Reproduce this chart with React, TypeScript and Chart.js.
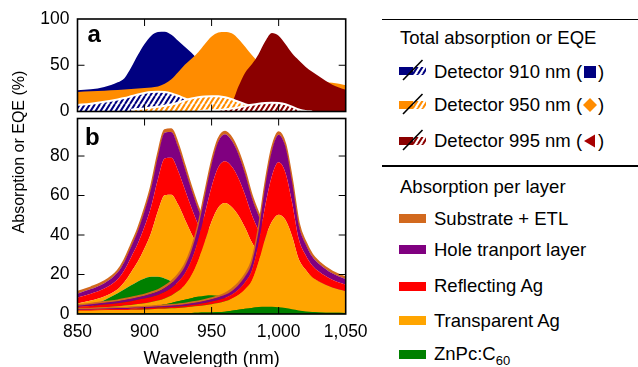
import React, { useEffect, useRef } from 'react';
import { Chart, registerables } from 'chart.js';

Chart.register(...registerables);

const FONT = "'Liberation Sans', Arial, Helvetica, sans-serif";

// Wavelength grid (nm)
const wavelengths = [850, 860, 870, 880, 885, 890, 895, 900, 905, 910, 915, 920, 925, 930, 935, 940, 945, 950, 955, 960, 965, 970, 975, 980, 985, 990, 995, 1000, 1005, 1010, 1015, 1020, 1025, 1030, 1040, 1050];

const xTicks = [850, 900, 950, 1000, 1050];
const yTicksA = [0, 50, 100];
const yTicksB = [0, 20, 40, 60, 80];

// Panel a: total absorption (%)
const absTotal910 = [23, 24, 26.5, 31.5, 36, 47.5, 61, 73, 82, 86, 86.3, 83, 76.5, 70, 63.5, 56, 48, 41, 35, 30.5, 27, 24.5, 22.5, 21, 20, 19, 18.2, 17.5, 17, 16.5, 16, 15.6, 15.2, 14.8, 14.2, 13.7];
const absTotal950 = [21, 21.8, 22.5, 23.2, 23.7, 24.2, 24.8, 25.3, 26, 27, 30, 35, 42.5, 50.5, 57, 64, 73, 81, 85.3, 86, 84.5, 78.5, 70, 61, 53, 47, 43, 40, 38, 36.5, 35.5, 34.5, 33.5, 32.5, 31, 28.5];
const absTotal995 = [2, 2.2, 2.4, 2.6, 2.8, 3, 3.2, 3.4, 3.6, 3.9, 4.2, 4.5, 4.8, 5.2, 5.6, 6, 6.5, 7, 7.5, 8, 10, 27, 42, 51, 62, 76, 85, 82, 73, 63, 55.5, 48.5, 43, 38, 29, 23.5];

// Panel a: EQE (%)
const eqe910 = [7, 8.5, 10.5, 13, 14.5, 16.5, 18.5, 20, 21, 21.3, 21, 19.5, 17, 14, 11.5, 9, 7, 5.5, 4.5, 3.5, 3, 2.5, 2.2, 2, null, null, null, null, null, null, null, null, null, null, null, null];
const eqe950 = [null, null, null, null, null, 2, 2.6, 3.3, 4.2, 5.2, 6.3, 7.6, 9.5, 12, 14, 15.3, 16.2, 16.6, 16.4, 15.3, 13.2, 10.5, 8, 6, 4.5, 3.4, 2.6, 2, 1.5, 1.1, 0.8, 0.5, null, null, null, null];
const eqe995 = [null, null, null, null, null, null, null, null, null, null, null, null, null, null, null, 0.5, 1, 1.3, 1.7, 2.3, 3.2, 4.4, 5.8, 7.2, 8.4, 9.2, 9.5, 9.1, 7.8, 5.2, 2.3, 0.6, 0, null, null, null];

// Panel b: absorption per layer (%), detector 910 nm
const znpc910 = [2.5, 4, 7, 10.5, 12.5, 14.5, 16.5, 18, 18.8, 18.8, 18, 16.5, 14.5, 12, 10, 8, 6.5, 5.5, 4.5, 3.8, 3.2, 2.8, 2.5, 2.2, 2, 1.8, 1.7, 1.6, 1.5, 1.4, 1.3, 1.2, 1.2, 1.1, 1, 1];
const transAg910 = [2.8, 2.8, 1.9, 2.0, 3.7, 6.7, 10.1, 15.3, 22.5, 33.3, 42.1, 43.9, 40.9, 36.0, 30.7, 26.0, 22.1, 18.4, 15.7, 13.4, 11.7, 10.4, 9.4, 8.7, 8.0, 7.5, 7.0, 6.6, 6.2, 5.9, 5.7, 5.4, 5.2, 5.0, 4.7, 4.3];
const reflAg910 = [3.0, 3.5, 4.0, 5.1, 6.1, 7.6, 9.1, 11.0, 13.3, 16.3, 18.6, 18.7, 17.2, 15.2, 13.1, 11.2, 9.6, 8.3, 7.3, 6.4, 5.8, 5.3, 4.9, 4.6, 4.4, 4.2, 4.0, 3.9, 3.7, 3.6, 3.5, 3.4, 3.3, 3.3, 3.1, 3.0];
const htl910 = [2.0, 2.3, 2.7, 3.5, 4.2, 5.2, 6.3, 7.7, 9.3, 11.4, 13.1, 13.1, 12.1, 10.6, 9.1, 7.8, 6.7, 5.8, 5.0, 4.4, 3.9, 3.6, 3.3, 3.1, 3.0, 2.8, 2.7, 2.6, 2.5, 2.4, 2.4, 2.3, 2.2, 2.2, 2.1, 2.0];
const subEtl910 = [0.9, 0.9, 0.9, 0.9, 0.9, 1.0, 1.0, 1.1, 1.1, 1.2, 1.3, 1.3, 1.2, 1.2, 1.1, 1.1, 1.0, 1.0, 1.0, 1.0, 0.9, 0.9, 0.9, 0.9, 0.9, 0.9, 0.9, 0.9, 0.9, 0.9, 0.9, 0.9, 0.9, 0.9, 0.9, 0.9];

// Panel b: detector 950 nm
const znpc950 = [0.8, 1, 1.3, 1.7, 2, 2.3, 2.7, 3.1, 3.6, 4.2, 4.9, 5.6, 6.4, 7.2, 8, 8.8, 9.3, 9.5, 9.2, 8.3, 7, 5.6, 4.5, 3.6, 3, 2.5, 2.1, 1.8, 1.6, 1.4, 1.3, 1.2, 1.1, 1, 0.9, 0.8];
const transAg950 = [1.7, 1.9, 2.1, 2.2, 2.3, 2.3, 2.4, 2.4, 2.5, 2.6, 3.0, 3.8, 5.2, 7.4, 11.6, 18.2, 27.6, 37.3, 44.7, 47.9, 47.2, 44.3, 39.2, 32.7, 27.7, 23.3, 20.0, 17.2, 14.9, 13.2, 11.8, 10.7, 9.8, 9.0, 7.9, 7.1];
const reflAg950 = [1.0, 1.2, 1.4, 1.6, 1.7, 1.9, 2.1, 2.3, 2.5, 2.8, 3.2, 3.8, 4.6, 5.8, 7.6, 10.4, 14.0, 17.7, 20.4, 21.2, 20.5, 18.9, 16.6, 13.8, 11.7, 9.9, 8.5, 7.4, 6.4, 5.8, 5.2, 4.7, 4.4, 4.0, 3.6, 3.2];
const htl950 = [0.7, 0.8, 0.9, 1.0, 1.1, 1.2, 1.3, 1.4, 1.6, 1.8, 2.1, 2.4, 2.9, 3.7, 4.9, 6.6, 9.0, 11.3, 13.0, 13.6, 13.1, 12.1, 10.6, 8.8, 7.5, 6.3, 5.4, 4.7, 4.1, 3.7, 3.3, 3.0, 2.8, 2.6, 2.3, 2.1];
const subEtl950 = [0.3, 0.3, 0.4, 0.4, 0.5, 0.5, 0.5, 0.6, 0.7, 0.7, 0.8, 0.9, 0.9, 0.9, 1.0, 1.0, 1.1, 1.2, 1.2, 1.3, 1.3, 1.2, 1.2, 1.1, 1.1, 1.0, 1.0, 1.0, 0.9, 0.9, 0.9, 0.9, 0.9, 0.9, 0.9, 0.8];

// Panel b: detector 995 nm
const znpc995 = [0.2, 0.2, 0.25, 0.3, 0.3, 0.3, 0.3, 0.3, 0.35, 0.4, 0.4, 0.4, 0.45, 0.5, 0.55, 0.6, 0.7, 0.8, 1.0, 1.2, 1.6, 2.1, 2.6, 3.1, 3.5, 3.7, 3.7, 3.4, 3.0, 2.4, 1.8, 1.3, 1.0, 0.8, 0.6, 0.5];
const transAg995 = [1.4, 1.5, 1.6, 1.7, 1.7, 1.9, 1.9, 2.0, 2.1, 2.2, 2.3, 2.5, 2.6, 2.8, 3.1, 3.4, 3.7, 4.2, 4.6, 5.2, 6.1, 7.5, 9.9, 13.7, 22.7, 34.7, 43.1, 46.9, 44.7, 37.0, 26.1, 21.2, 17.6, 15.7, 12.8, 11.0];
const reflAg995 = [0.4, 0.4, 0.5, 0.5, 0.5, 0.5, 0.6, 0.6, 0.6, 0.7, 0.7, 0.7, 0.8, 0.8, 0.9, 1.0, 1.2, 1.3, 1.5, 1.7, 2.1, 2.7, 3.6, 5.1, 9.2, 16.4, 23.2, 26.5, 24.0, 17.1, 10.1, 7.5, 5.9, 5.0, 3.9, 3.3];
const htl995 = [0.4, 0.4, 0.4, 0.5, 0.5, 0.5, 0.5, 0.6, 0.6, 0.6, 0.7, 0.7, 0.7, 0.8, 0.9, 1.0, 1.1, 1.2, 1.4, 1.6, 1.9, 2.4, 3.0, 4.1, 6.5, 10.0, 12.8, 14.0, 13.1, 10.3, 7.0, 5.6, 4.6, 4.0, 3.3, 2.8];
const subEtl995 = [0.2, 0.2, 0.2, 0.2, 0.2, 0.2, 0.2, 0.2, 0.2, 0.3, 0.3, 0.3, 0.3, 0.3, 0.4, 0.4, 0.4, 0.5, 0.5, 0.6, 0.8, 0.9, 0.9, 0.9, 1.0, 1.1, 1.2, 1.3, 1.2, 1.1, 1.0, 1.0, 1.0, 0.9, 0.9, 0.9];

const NAVY = '#000080';
const DORANGE = '#FF8C00';
const DRED = '#8B0000';
const C_SUB = '#D2691E';
const C_HTL = '#800080';
const C_REFL = '#FF0000';
const C_TRANS = '#FFA500';
const C_ZNPC = '#008000';

function makeHatch(color: string): CanvasPattern {
  const c = document.createElement('canvas');
  c.width = 5;
  c.height = 8;
  const g = c.getContext('2d')!;
  g.fillStyle = '#fff';
  g.fillRect(0, 0, 5, 8);
  g.strokeStyle = color;
  g.lineWidth = 2;
  g.beginPath();
  g.moveTo(-5, 8); g.lineTo(0, 0);
  g.moveTo(0, 8); g.lineTo(5, 0);
  g.moveTo(5, 8); g.lineTo(10, 0);
  g.stroke();
  return g.createPattern(c, 'repeat')!;
}

const framePlugin = {
  id: 'frame',
  afterDatasetsDraw(chart: any, _args: any, opts: any) {
    const { ctx, chartArea: a, scales } = chart;
    ctx.save();
    ctx.strokeStyle = '#000';
    ctx.lineWidth = 1;
    ctx.beginPath();
    for (const v of opts.xTicks) {
      const x = scales.x.getPixelForValue(v);
      if (x <= a.left + 1 || x >= a.right - 1) continue;
      ctx.moveTo(x, a.top); ctx.lineTo(x, a.top + 7);
      ctx.moveTo(x, a.bottom); ctx.lineTo(x, a.bottom - 7);
    }
    for (const v of opts.yTicks) {
      const y = scales.y.getPixelForValue(v);
      if (y <= a.top + 1 || y >= a.bottom - 1) continue;
      ctx.moveTo(a.left, y); ctx.lineTo(a.left + 7, y);
      ctx.moveTo(a.right, y); ctx.lineTo(a.right - 7, y);
    }
    ctx.stroke();
    ctx.lineWidth = 1.6;
    ctx.strokeRect(a.left, a.top, a.right - a.left, a.bottom - a.top);
    ctx.restore();
  },
};

const W = 380;

function yAxis(min: number, max: number, ticks: number[], stacked: boolean) {
  return {
    type: 'linear' as const,
    min, max, stacked,
    afterBuildTicks: (s: any) => { s.ticks = ticks.map((v) => ({ value: v })); },
    afterFit: (s: any) => { s.width = 77.5; },
    grid: { display: false, drawTicks: false },
    border: { display: false },
    ticks: { padding: 8, color: '#000', font: { size: 17.5, family: FONT } },
  };
}

export default function App() {
  const refA = useRef<HTMLCanvasElement>(null);
  const refB = useRef<HTMLCanvasElement>(null);

  useEffect(() => {
    Chart.defaults.font.family = FONT;
    Chart.defaults.color = '#000';
    const pts = (arr: (number | null)[]) => wavelengths.map((x, i) => ({ x, y: arr[i] }));

    const solid = (label: string, arr: number[], color: string) => ({
      label, data: pts(arr), fill: 'origin', backgroundColor: color,
      borderColor: 'rgba(0,0,0,0)', borderWidth: 1, pointRadius: 0,
      cubicInterpolationMode: 'monotone' as const,
    });
    const hatched = (label: string, arr: (number | null)[], color: string) => ({
      label, data: pts(arr), fill: 'origin', backgroundColor: makeHatch(color),
      borderColor: '#fff', borderWidth: 2, pointRadius: 0,
      cubicInterpolationMode: 'monotone' as const,
    });

    const chartA = new Chart(refA.current!, {
      type: 'line',
      data: {
        datasets: [
          hatched('EQE 995 nm', eqe995, DRED),
          hatched('EQE 950 nm', eqe950, DORANGE),
          hatched('EQE 910 nm', eqe910, NAVY),
          solid('Total 995 nm', absTotal995, DRED),
          solid('Total 950 nm', absTotal950, DORANGE),
          solid('Total 910 nm', absTotal910, NAVY),
        ] as any,
      },
      options: {
        responsive: false,
        animation: false,
        devicePixelRatio: 1,
        events: [],
        layout: { padding: { left: 0, right: W - 345.7, top: 19, bottom: 12.5 } },
        plugins: {
          legend: { display: false },
          tooltip: { enabled: false },
          frame: { xTicks, yTicks: yTicksA },
        } as any,
        scales: {
          x: { type: 'linear', min: 850, max: 1050, display: false },
          y: yAxis(0, 100, yTicksA, false),
        } as any,
      },
      plugins: [framePlugin],
    });

    const layers = (
      stack: string,
      g: number[], t: number[], r: number[], h: number[], s: number[],
    ) => {
      const mk = (label: string, arr: number[], color: string, fill: any, top: boolean) => ({
        label, data: pts(arr), stack, fill, backgroundColor: color,
        borderColor: top ? color : 'rgba(0,0,0,0)', borderWidth: top ? 2 : 1,
        pointRadius: 0, cubicInterpolationMode: 'monotone' as const,
      });
      return [
        mk('ZnPc:C60 ' + stack, g, C_ZNPC, 'origin', false),
        mk('Transparent Ag ' + stack, t, C_TRANS, '-1', false),
        mk('Reflecting Ag ' + stack, r, C_REFL, '-1', false),
        mk('Hole tranport layer ' + stack, h, C_HTL, '-1', false),
        mk('Substrate + ETL ' + stack, s, C_SUB, '-1', true),
      ];
    };

    const chartB = new Chart(refB.current!, {
      type: 'line',
      data: {
        datasets: [
          ...layers('995', znpc995, transAg995, reflAg995, htl995, subEtl995),
          ...layers('950', znpc950, transAg950, reflAg950, htl950, subEtl950),
          ...layers('910', znpc910, transAg910, reflAg910, htl910, subEtl910),
        ] as any,
      },
      options: {
        responsive: false,
        animation: false,
        devicePixelRatio: 1,
        events: [],
        layout: { padding: { left: 0, right: W - 345.7, top: 17.5, bottom: 0 } },
        plugins: {
          legend: { display: false },
          tooltip: { enabled: false },
          frame: { xTicks, yTicks: yTicksB },
        } as any,
        scales: {
          x: {
            type: 'linear', min: 850, max: 1050,
            afterBuildTicks: (s: any) => { s.ticks = xTicks.map((v) => ({ value: v })); },
            afterFit: (s: any) => { s.height = 56; },
            grid: { display: false, drawTicks: false },
            border: { display: false },
            ticks: {
              padding: 8, color: '#000', maxRotation: 0, autoSkip: false,
              font: { size: 17.5, family: FONT },
              callback: (v: any) => Number(v).toLocaleString('en-US'),
            },
            title: {
              display: true, text: 'Wavelength (nm)', color: '#000', padding: 0,
              font: { size: 18, family: FONT, lineHeight: 1.2 },
            },
          },
          y: yAxis(0, 99, yTicksB, true),
        } as any,
      },
      plugins: [framePlugin],
    });

    return () => { chartA.destroy(); chartB.destroy(); };
  }, []);

  const txt = (top: number, left: number, size = 18.5): React.CSSProperties => ({
    position: 'absolute', top, left, fontSize: size, lineHeight: '20px', whiteSpace: 'nowrap', color: '#000',
  });
  const swatch = (cy: number, color: string): React.CSSProperties => ({
    position: 'absolute', left: 399, top: cy - 4.5, width: 27, height: 9, background: color,
  });

  const detRows = [
    { label: 'Detector 910 nm', color: NAVY, cy: 71.3, id: 'h910', marker: <rect x="1" y="1" width="12" height="12" fill={NAVY} /> },
    { label: 'Detector 950 nm', color: DORANGE, cy: 105.2, id: 'h950', marker: <polygon points="7,0 14,7 7,14 0,7" fill={DORANGE} /> },
    { label: 'Detector 995 nm', color: DRED, cy: 141, id: 'h995', marker: <polygon points="1,7 12,0.5 12,13.5" fill="#A80000" /> },
  ];
  const layerRows = [
    { label: 'Substrate + ETL', color: C_SUB, cy: 218.6 },
    { label: 'Hole tranport layer', color: C_HTL, cy: 249.7 },
    { label: 'Reflecting Ag', color: C_REFL, cy: 286.2 },
    { label: 'Transparent Ag', color: C_TRANS, cy: 320.4 },
  ];

  return (
    <div style={{ position: 'absolute', left: 0, top: 0, width: 638, height: 367, overflow: 'hidden', background: '#fff', fontFamily: FONT }}>
      <canvas ref={refA} width={W} height={130} style={{ position: 'absolute', left: 0, top: 0, width: W, height: 130 }} />
      <canvas ref={refB} width={W} height={270} style={{ position: 'absolute', left: 0, top: 100, width: W, height: 270 }} />

      <div style={{ position: 'absolute', left: 87.5, top: 22, fontSize: 24, lineHeight: '24px', fontWeight: 'bold' }}>a</div>
      <div style={{ position: 'absolute', left: 85, top: 124.7, fontSize: 24, lineHeight: '24px', fontWeight: 'bold' }}>b</div>

      <div style={{ position: 'absolute', left: 19 - 100, top: 151.5 - 8, width: 200, height: 16, lineHeight: '16px', fontSize: 16, textAlign: 'center', whiteSpace: 'nowrap', transform: 'rotate(-90deg)', transformOrigin: '50% 50%' }}>
        Absorption or EQE (%)
      </div>

      <div style={{ position: 'absolute', left: 382, top: 18.5, width: 256, height: 1.6, background: '#000' }} />
      <div style={txt(27.9, 400)}>Total absorption or EQE</div>
      {detRows.map((r) => (
        <React.Fragment key={r.id}>
          <svg width="30" height="26" style={{ position: 'absolute', left: 398, top: r.cy - 13 }}>
            <defs>
              <pattern id={r.id} width="5" height="8" patternUnits="userSpaceOnUse">
                <rect width="5" height="8" fill="#fff" />
                <path d="M-5,8 L0,0 M0,8 L5,0 M5,8 L10,0" stroke={r.color} strokeWidth="2" />
              </pattern>
            </defs>
            <rect x="1" y="9" width="14" height="8" fill={r.color} />
            <rect x="15" y="9" width="13" height="8" fill={`url(#${r.id})`} />
            <line x1="5" y1="22" x2="24.5" y2="2" stroke="#000" strokeWidth="1.6" />
          </svg>
          <div style={txt(r.cy - 9.8, 434)}>
            {r.label} (
            <svg width="14" height="14" style={{ verticalAlign: '-1px', margin: '0 1px' }}>{r.marker}</svg>
            )
          </div>
        </React.Fragment>
      ))}
      <div style={{ position: 'absolute', left: 382, top: 165.2, width: 256, height: 1.6, background: '#000' }} />
      <div style={txt(176.9, 400)}>Absorption per layer</div>
      {layerRows.map((r) => (
        <React.Fragment key={r.label}>
          <div style={swatch(r.cy, r.color)} />
          <div style={txt(r.cy - 9.8, 434)}>{r.label}</div>
        </React.Fragment>
      ))}
      <div style={swatch(354, C_ZNPC)} />
      <div style={txt(354 - 9.8, 434)}>
        ZnPc:C<span style={{ fontSize: 13, position: 'relative', top: 5, lineHeight: 0 }}>60</span>
      </div>
    </div>
  );
}
